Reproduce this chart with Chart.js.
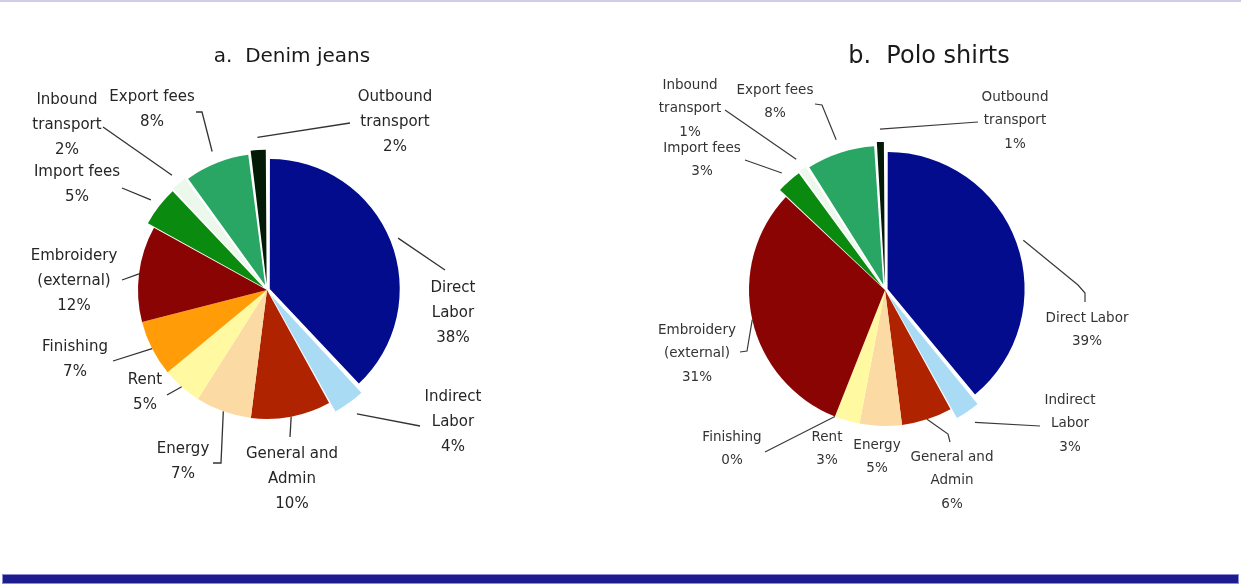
<!DOCTYPE html>
<html>
<head>
<meta charset="utf-8">
<title>Cost breakdown: denim jeans and polo shirts</title>
<script src="https://cdn.jsdelivr.net/npm/chart.js@4.4.1/dist/chart.umd.min.js"></script>
<style>
  html, body { margin: 0; padding: 0; background: #ffffff; }
  #stage { position: relative; width: 1241px; height: 586px; overflow: hidden; background: #ffffff; }
  #stage canvas { position: absolute; left: 0; top: 0; }
  .rule-top { position: absolute; left: 0; top: 0; width: 1241px; height: 2px; background: #cdcdea; }
  .rule-bottom { position: absolute; left: 2px; top: 574px; width: 1235px; height: 8px;
                 background: #1c1c8e; border: 1px solid #8c8cd2; }
</style>
</head>
<body>
<div id="stage">
  <div class="rule-top"></div>
  <canvas id="denim" width="1241" height="586"></canvas>
  <canvas id="polo" width="1241" height="586"></canvas>
  <div class="rule-bottom"></div>
</div>
<script>
// ---- data -------------------------------------------------------------
const categories = [
  'Direct Labor', 'Indirect Labor', 'General and Admin', 'Energy', 'Rent',
  'Finishing', 'Embroidery (external)', 'Import fees', 'Inbound transport',
  'Export fees', 'Outbound transport'
];
// share of total cost, percent
const denimShares = [38, 4, 10, 7, 5, 7, 12, 5, 2, 8, 2];
const poloShares  = [39, 3, 6, 5, 3, 0, 31, 3, 1, 8, 1];

// label text, one entry per category (the percentage is appended from the data)
const denimLabelLines = [
  ['Direct', 'Labor'], ['Indirect', 'Labor'], ['General and', 'Admin'], ['Energy'], ['Rent'],
  ['Finishing'], ['Embroidery', '(external)'], ['Import fees'], ['Inbound', 'transport'],
  ['Export fees'], ['Outbound', 'transport']
];
const poloLabelLines = [
  ['Direct Labor'], ['Indirect', 'Labor'], ['General and', 'Admin'], ['Energy'], ['Rent'],
  ['Finishing'], ['Embroidery', '(external)'], ['Import fees'], ['Inbound', 'transport'],
  ['Export fees'], ['Outbound', 'transport']
];

// ---- styling ----------------------------------------------------------
const sliceColors = [
  '#020c8c', '#a9dcf4', '#b02300', '#fcdaa4', '#fffaa2',
  '#ff9c08', '#8a0404', '#0b8a10', '#edf8ec', '#2aa664', '#021a06'
];
const denimExplode = [12, 24, 0, 0, 0, 0, 0, 18, 20, 20, 24];
const poloExplode  = [11, 24, 0, 0, 0, 0, 0, 20, 22, 22, 25];

// label placement relative to the pie centre: first-line position and leader bends
const denimLabelLayout = [
  { dx: 186,  dy: -2,   path: [[178, -20]] },
  { dx: 186,  dy: 107,  path: [[153, 136]] },
  { dx: 25,   dy: 164,  path: [[23, 147]] },
  { dx: -84,  dy: 159,  path: [[-46, 173], [-54, 173]] },
  { dx: -122, dy: 90,   path: [[-100, 105]] },
  { dx: -192, dy: 57,   path: [[-154, 71]] },
  { dx: -193, dy: -34,  path: [[-145, -10]] },
  { dx: -190, dy: -118, path: [[-145, -102]] },
  { dx: -200, dy: -190, path: [[-164, -163]] },
  { dx: -115, dy: -193, path: [[-65, -178], [-71, -178]] },
  { dx: 128,  dy: -193, path: [[83, -167]] }
];
const poloLabelLayout = [
  { dx: 202,  dy: 28,   path: [[193, -5], [200, 3], [200, 12]] },
  { dx: 185,  dy: 110,  path: [[155, 136]] },
  { dx: 67,   dy: 167,  path: [[63, 144], [65, 152]] },
  { dx: -8,   dy: 155,  path: null },
  { dx: -58,  dy: 147,  path: null },
  { dx: -153, dy: 147,  path: [[-120, 162]] },
  { dx: -188, dy: 40,   path: [[-138, 61], [-145, 62]] },
  { dx: -183, dy: -142, path: [[-140, -130]] },
  { dx: -195, dy: -205, path: [[-160, -180]] },
  { dx: -110, dy: -200, path: [[-63, -185], [-70, -186]] },
  { dx: 130,  dy: -193, path: [[93, -168]] }
];

// ---- plugin: leader-line labels and panel title -------------------------
const leaderLabels = {
  id: 'leaderLabels',
  afterDatasetsDraw(chart, args, opts) {
    const ctx = chart.ctx;
    const meta = chart.getDatasetMeta(0);
    const values = chart.data.datasets[0].data;
    ctx.save();
    ctx.strokeStyle = opts.lineColor;
    ctx.lineWidth = opts.lineWidth;
    ctx.fillStyle = opts.textColor;
    ctx.font = opts.font;
    ctx.textAlign = 'center';
    ctx.textBaseline = 'middle';
    meta.data.forEach((arc, i) => {
      const p = arc.getProps(['x', 'y', 'startAngle', 'endAngle', 'outerRadius'], true);
      const off = arc.options.offset || 0;
      const mid = (p.startAngle + p.endAngle) / 2;
      const ax = p.x + Math.cos(mid) * (p.outerRadius + off);
      const ay = p.y + Math.sin(mid) * (p.outerRadius + off);
      const L = opts.layout[i];
      if (L.path) {
        ctx.beginPath();
        ctx.moveTo(ax, ay);
        L.path.forEach(([px, py]) => ctx.lineTo(p.x + px, p.y + py));
        ctx.stroke();
      }
      const lines = opts.lines[i].concat([values[i] + '%']);
      lines.forEach((t, k) => ctx.fillText(t, p.x + L.dx, p.y + L.dy + k * opts.lineHeight));
    });
    ctx.font = opts.titleFont;
    ctx.fillStyle = opts.titleColor;
    ctx.fillText(opts.title, opts.titleX, opts.titleY);
    ctx.restore();
  }
};

function makePie(canvasId, values, explode, radius, padding, labelOpts) {
  return new Chart(document.getElementById(canvasId), {
    type: 'pie',
    data: {
      labels: categories,
      datasets: [{
        data: values,
        backgroundColor: sliceColors,
        borderWidth: 0,
        offset: explode
      }]
    },
    options: {
      responsive: false,
      animation: false,
      radius: radius,
      layout: { padding: padding },
      plugins: {
        legend: { display: false },
        tooltip: { enabled: false },
        leaderLabels: labelOpts
      }
    },
    plugins: [leaderLabels]
  });
}

// left panel: centre at (267, 290)
makePie('denim', denimShares, denimExplode, 129,
  { left: 0, right: 707, top: 0, bottom: 6 },
  {
    layout: denimLabelLayout, lines: denimLabelLines,
    font: '15px "DejaVu Sans"', lineHeight: 25, textColor: '#262626',
    lineColor: '#333333', lineWidth: 1.3,
    title: 'a.  Denim jeans', titleFont: '20px "DejaVu Sans"', titleColor: '#1a1a1a',
    titleX: 292, titleY: 57
  });

// right panel: centre at (885, 290)
makePie('polo', poloShares, poloExplode, 136,
  { left: 529, right: 0, top: 0, bottom: 6 },
  {
    layout: poloLabelLayout, lines: poloLabelLines,
    font: '13.5px "DejaVu Sans"', lineHeight: 23.5, textColor: '#333333',
    lineColor: '#3a3a3a', lineWidth: 1.2,
    title: 'b.  Polo shirts', titleFont: '24px "DejaVu Sans"', titleColor: '#1a1a1a',
    titleX: 929, titleY: 57
  });
</script>
</body>
</html>
